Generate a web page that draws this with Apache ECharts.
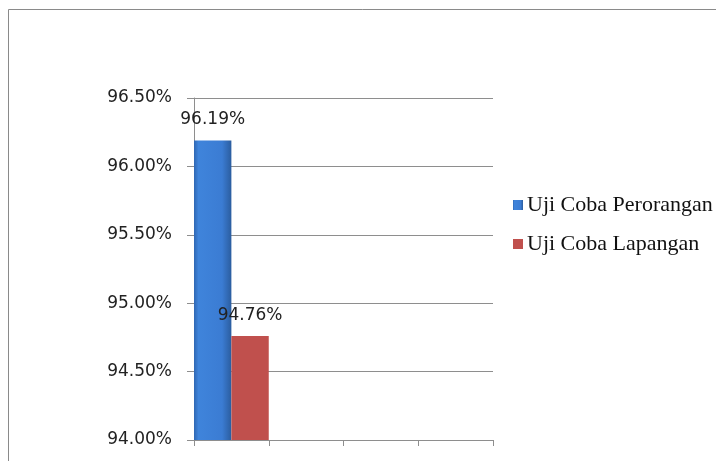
<!DOCTYPE html>
<html>
<head>
<meta charset="utf-8">
<script src="https://cdn.jsdelivr.net/npm/echarts@6/dist/echarts.min.js"></script>
<style>
  html, body { margin: 0; padding: 0; background: #fff; }
  #chart { width: 716px; height: 461px; }
</style>
</head>
<body>
<div id="chart"></div>
<script>
// Category slots along the x axis (only the first one carries data)
const categories = ['', '', '', ''];
// Percentages per trial
const perorangan = [96.19, null, null, null];
const lapangan = [94.76, null, null, null];
// Value axis range, in percent
const yMin = 94.0;
const yMax = 96.5;
const yStep = 0.5;

const seriesNames = ['Uji Coba Perorangan', 'Uji Coba Lapangan'];

const chart = echarts.init(document.getElementById('chart'), null, { renderer: 'canvas' });

const blueFill = new echarts.graphic.LinearGradient(0, 0, 1, 0, [
  { offset: 0, color: '#2f67b3' },
  { offset: 0.12, color: '#3f84db' },
  { offset: 0.75, color: '#3b7cd3' },
  { offset: 1, color: '#2b5d9f' }
]);
const pct = v => v.toFixed(2) + '%';
const valueFont = { fontFamily: 'DejaVu Sans', fontSize: 17, color: '#222' };

chart.setOption({
  animation: false,
  backgroundColor: '#fff',
  graphic: [{
    type: 'rect',
    shape: { x: 8.5, y: 9.5, width: 760, height: 520 },
    style: { fill: 'none', stroke: '#8a8a8a', lineWidth: 1 },
    silent: true,
    z: -1
  }],
  grid: { left: 194, right: 223, top: 98, bottom: 21, containLabel: false },
  legend: {
    orient: 'vertical',
    left: 513,
    top: 194,
    padding: 0,
    itemWidth: 10,
    itemHeight: 10,
    itemGap: 17,
    icon: 'rect',
    textStyle: { fontFamily: 'Liberation Serif', fontSize: 22, lineHeight: 22, color: '#111', padding: [0, 0, 0, -1] },
    data: seriesNames
  },
  xAxis: {
    type: 'category',
    data: categories,
    boundaryGap: true,
    axisLine: { show: true, lineStyle: { color: '#8e8e8e', width: 1 } },
    axisTick: { show: true, length: 6, lineStyle: { color: '#8e8e8e' } },
    axisLabel: { show: false }
  },
  yAxis: {
    type: 'value',
    min: yMin,
    max: yMax,
    interval: yStep,
    axisLine: { show: true, lineStyle: { color: '#8e8e8e', width: 1 } },
    axisTick: { show: true, length: 7, lineStyle: { color: '#8e8e8e' } },
    splitLine: { show: true, lineStyle: { color: '#8e8e8e', width: 1 } },
    axisLabel: {
      margin: 22,
      formatter: v => pct(v),
      fontFamily: 'DejaVu Sans',
      fontSize: 17,
      color: '#222'
    }
  },
  series: [
    {
      name: seriesNames[0],
      type: 'bar',
      data: perorangan,
      barGap: '0%',
      barCategoryGap: '0%',
      itemStyle: { color: blueFill },
      label: {
        show: true,
        position: 'top',
        distance: 12,
        formatter: p => pct(p.value),
        ...valueFont
      }
    },
    {
      name: seriesNames[1],
      type: 'bar',
      data: lapangan,
      barGap: '0%',
      barCategoryGap: '0%',
      itemStyle: { color: '#c0504d' },
      label: {
        show: true,
        position: 'top',
        distance: 12,
        formatter: p => pct(p.value),
        ...valueFont
      }
    }
  ]
});
</script>
</body>
</html>
